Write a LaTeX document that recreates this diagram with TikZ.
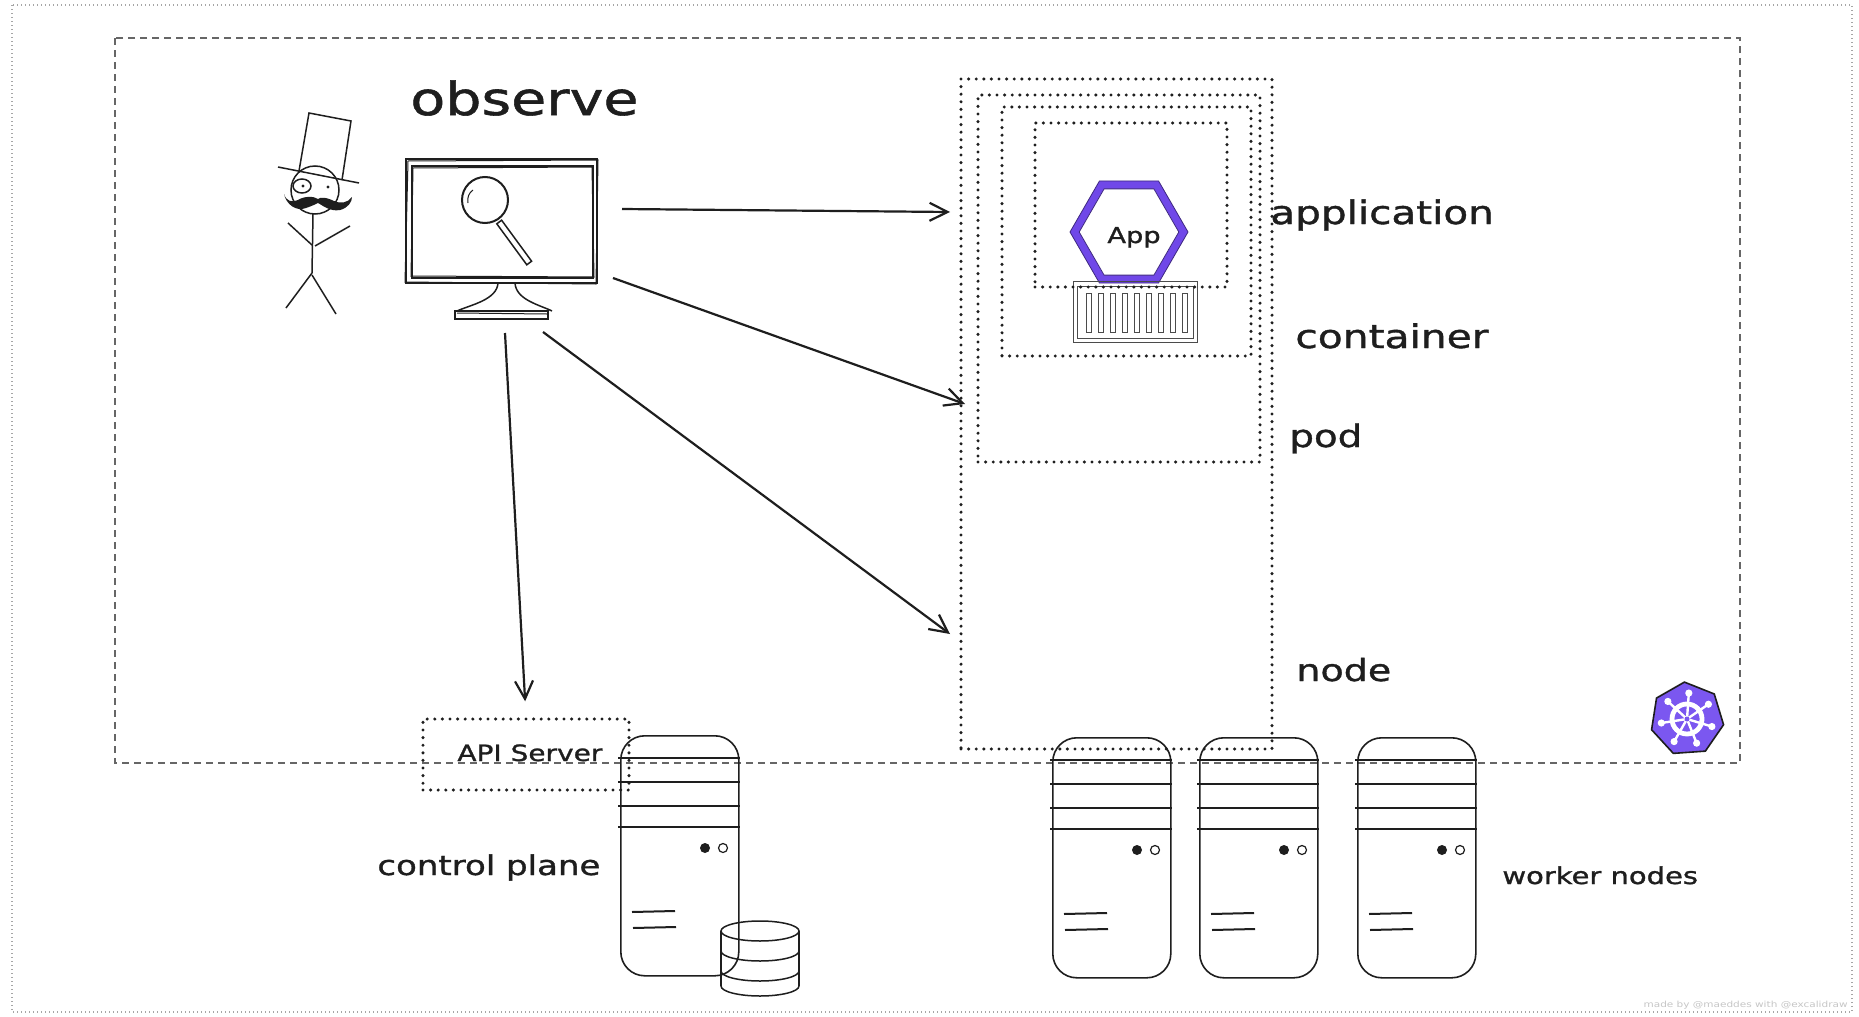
\documentclass[tikz,border=0pt]{standalone}
\usepackage{fontspec}
\newfontfamily\hand{DejaVu Sans}[FakeStretch=1.25,FakeBold=1.2]
\newfontfamily\handlight{DejaVu Sans}[FakeStretch=1.25]
\usetikzlibrary{arrows.meta,shapes.geometric,fit,calc}
\definecolor{appviolet}{HTML}{7048E8}
\definecolor{kviolet}{HTML}{7B57F0}
\definecolor{ink}{HTML}{1E1E1E}

\tikzset{
  frame/.style={draw=gray!70, line width=0.6pt, dash pattern=on 0.5pt off 1.5pt},
  cluster/.style={draw=black!60, line width=0.9pt, dash pattern=on 3.5pt off 2.5pt},
  dotbox/.style={draw=ink, line width=1.7pt, line cap=round, dash pattern=on 0pt off 3.8pt, inner sep=0pt},
  arr/.style={draw=ink, line width=1.1pt, -{Straight Barb[length=9pt,width=9pt,line width=1.1pt]}},
  sk/.style={draw=ink, line width=0.75pt},
  lbl/.style={anchor=base west, inner sep=0pt, text=ink},
  server/.pic={
    \node[draw=ink, line width=0.8pt, rounded corners=12pt, minimum width=59pt,
          minimum height=120pt, anchor=north west, inner sep=0pt] (-body) at (0,0) {};
    \foreach \yy in {23,47,71,92} \draw[ink, line width=1pt] (-2,\yy) -- (120,\yy);
    \fill[ink] (85,113) circle[radius=5];
    \draw[ink, line width=0.6pt] (103,113) circle[radius=4.5];
    \draw[ink, line width=1pt] (12,177) -- (55,176);
    \draw[ink, line width=1pt] (13,193) -- (56,192);
  },
}

\begin{document}
\begin{tikzpicture}[x=0.5pt,y=-0.5pt]
  \fill[white] (0,0) rectangle (1859,1017);
  \useasboundingbox (0,0) rectangle (1859,1017);

  % page frame and cluster boundary
  \draw[frame] (12,5) rectangle (1852,1012);
  \draw[cluster] (115,38) rectangle (1740,763);

  % observer with top hat and monocle
  \draw[sk] (299,171) -- (309,113) -- (351,121) -- (342,180);
  \draw[sk] (278,167) -- (359,183);
  \draw[sk] (315,190) circle[radius=24];
  \draw[sk] (302,186) ellipse[x radius=9, y radius=7];
  \fill[ink] (303,186) circle[radius=1.6];
  \fill[ink] (328,187) circle[radius=1.6];
  \fill[ink] (284,194) .. controls (286,204) and (296,212) .. (306,208)
    .. controls (312,206) and (316,204) .. (318,203)
    .. controls (322,205) and (330,212) .. (340,210)
    .. controls (348,208) and (352,202) .. (352,197)
    .. controls (348,203) and (340,204) .. (334,201)
    .. controls (326,197) and (320,197) .. (318,199)
    .. controls (314,196) and (304,196) .. (298,200)
    .. controls (292,203) and (286,201) .. (284,194) -- cycle;
  \draw[sk] (313,214) -- (312,273);
  \draw[sk] (288,223) -- (312,245);
  \draw[sk] (315,246) -- (350,226);
  \draw[sk] (312,273) -- (286,308);
  \draw[sk] (312,275) -- (336,314);

  % monitor with magnifier
  \draw[sk] (406,159) rectangle (597,283);
  \draw[sk, line width=0.5pt] (408,161) -- (598,160) -- (596,284) -- (405,282) -- cycle;
  \draw[sk] (412,166) rectangle (593,278);
  \draw[sk, line width=0.5pt] (413,168) -- (592,167) -- (594,277) -- (411,276) -- cycle;
  \draw[sk] (498,283) .. controls (497,300) and (470,305) .. (457,311);
  \draw[sk] (515,283) .. controls (516,300) and (540,305) .. (552,311);
  \draw[sk] (455,311) rectangle (548,319);
  \draw[sk, line width=0.5pt] (457,313) -- (547,314);
  \draw[sk, line width=1pt] (485,200) circle[radius=23];
  \draw[sk, line width=0.5pt] (468,203) .. controls (467,197) and (469,193) .. (473,190);
  \draw[sk] (496.8,223.8) -- (526.8,264.8) -- (531.6,261.2) -- (501.6,220.2) -- cycle;
  \node[fit={(405,158)(598,320)}, inner sep=0pt] (monitor) {};

  \node[lbl] (observe) at (410,115) {\hand\fontsize{22.8}{27}\selectfont observe};

  % nested scopes: node > pod > container > application
  \node[dotbox, fit={(961,79)(1272,749)}] (nodebox) {};
  \node[dotbox, fit={(978,95)(1260,462)}] (podbox) {};
  \node[dotbox, fit={(1002,107)(1251,356)}] (ctrbox) {};

  % application hexagon
  \node[regular polygon, regular polygon sides=6, minimum size=59pt, inner sep=0pt,
        fill=appviolet, draw=appviolet!55!black, line width=0.4pt] (hexo) at (1129,232) {};
  \node[regular polygon, regular polygon sides=6, minimum size=49.8pt, inner sep=0pt,
        fill=white, draw=appviolet!55!black, line width=0.4pt] (hexi) at (1129,232) {};
  \node[lbl] (app) at (1107,243) {\hand\fontsize{10.9}{13}\selectfont App};

  % shipping container
  \draw[ink!80, line width=0.4pt] (1073,281) rectangle (1197,342);
  \draw[ink!80, line width=0.4pt] (1077,286) rectangle (1193,338);
  \foreach \i in {0,...,8}
    \draw[ink!80, line width=0.4pt] ({1086+12*\i},293) rectangle ({1091+12*\i},332);
  \node[fit={(1073,281)(1197,342)}, inner sep=0pt] (container) {};

  \node[dotbox, fit={(1035,123)(1227,287)}] (appbox) {};

  % layer labels
  \node[lbl] (lapp) at (1270,224) {\hand\fontsize{16.2}{19}\selectfont application};
  \node[lbl] (lctr) at (1295,348) {\hand\fontsize{16.3}{19}\selectfont container};
  \node[lbl] (lpod) at (1289,447) {\hand\fontsize{15.5}{19}\selectfont pod};
  \node[lbl] (lnode) at (1296,681) {\hand\fontsize{15.2}{19}\selectfont node};

  % API server and control plane
  \node[dotbox, fit={(423,719)(629,790)}] (api) {};
  \node[lbl] (apitext) at (457,761) {\hand\fontsize{11.2}{13}\selectfont API Server};
  \pic (cp) at (620,735) {server};
  \draw[sk] (760,931) ellipse[x radius=39, y radius=10];
  \draw[sk] (721,931) -- (721,986);
  \draw[sk] (799,931) -- (799,986);
  \draw[sk] (721,951) arc[start angle=180, end angle=360, x radius=39, y radius=-10];
  \draw[sk] (721,971) arc[start angle=180, end angle=360, x radius=39, y radius=-10];
  \draw[sk] (721,986) arc[start angle=180, end angle=360, x radius=39, y radius=-10];
  \node[lbl] (lcp) at (377,875) {\hand\fontsize{13.6}{16}\selectfont control plane};

  % worker nodes
  \pic (w1) at (1052,737) {server};
  \pic (w2) at (1199,737) {server};
  \pic (w3) at (1357,737) {server};
  \node[lbl] (lworkers) at (1502,884) {\hand\fontsize{11.6}{14}\selectfont worker nodes};

  % kubernetes logo
  \node[regular polygon, regular polygon sides=7, minimum size=37pt, inner sep=0pt,
        shape border rotate=4, fill=kviolet, draw=ink, line width=0.8pt] (k8s) at (1687,719) {};
  \draw[white, line width=2.4pt] (k8s.center) circle[radius=15];
  \foreach \k in {0,...,6} {
    \draw[white, line width=1.2pt] (k8s.center) -- ++({-90+4+\k*360/7}:27);
    \fill[white] (k8s.center) ++({-90+4+\k*360/7}:26) circle[radius=3.6];
  }
  \fill[kviolet] (k8s.center) circle[radius=2.5];

  % observation arrows
  \coordinate (s1) at (622,209);  \coordinate (e1) at (950,212);
  \coordinate (s2) at (613,278);  \coordinate (e2) at (965,404);
  \coordinate (s3) at (543,332);  \coordinate (e3) at (950,634);
  \coordinate (s4) at (505,333);
  \draw[arr] (s1) -- (e1);
  \draw[arr] (s2) -- (e2);
  \draw[arr] (s3) -- (e3);
  \draw[arr, shorten >=8pt] (s4) -- (api.north);

  \node[anchor=base east, inner sep=0pt, text=gray!45] (credit) at (1848,1007)
    {\handlight\fontsize{4.2}{5}\selectfont made by @maeddes with @excalidraw};
\end{tikzpicture}
\end{document}
